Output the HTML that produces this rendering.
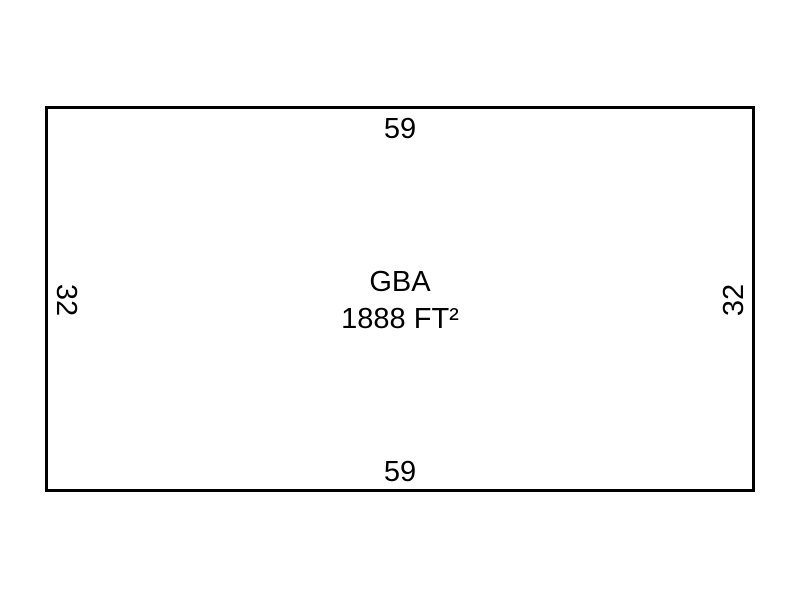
<!DOCTYPE html>
<html><head><style>html,body{margin:0;padding:0;background:#fff;}</style></head>
<body>
<svg width="800" height="600" xmlns="http://www.w3.org/2000/svg" font-family="Liberation Sans, Arial, sans-serif" font-size="29" fill="#000">
<rect x="46.5" y="107.5" width="707" height="383" fill="none" stroke="#000" stroke-width="3"/>
<text x="400" y="138" text-anchor="middle">59</text>
<text x="400" y="481" text-anchor="middle">59</text>
<text x="400" y="291" text-anchor="middle">GBA</text>
<text x="400" y="328" text-anchor="middle">1888 FT²</text>
<text transform="translate(57,300) rotate(90)" text-anchor="middle">32</text>
<text transform="translate(743,300) rotate(-90)" text-anchor="middle">32</text>
</svg>
</body></html>
